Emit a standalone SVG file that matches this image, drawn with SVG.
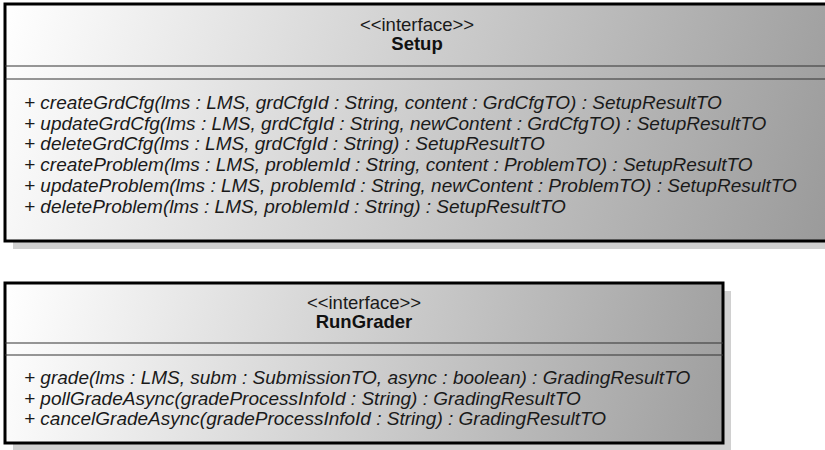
<svg xmlns="http://www.w3.org/2000/svg" width="825" height="450" viewBox="0 0 825 450">
  <style>
    .box { stroke: #000; stroke-width: 3; }
    .shadow { fill: #d0d0d0; }
    .sep { stroke: #333; stroke-width: 1.2; }
    .stereo { font-family: "Liberation Sans", Arial, sans-serif; font-size: 18.5px; fill: #1a1a1a; text-anchor: middle; }
    .name { font-family: "Liberation Sans", Arial, sans-serif; font-size: 18.5px; font-weight: bold; fill: #111; text-anchor: middle; }
    .op { font-family: "Liberation Sans", Arial, sans-serif; font-size: 19px; font-style: italic; fill: #1a1a1a; }
  </style>
  <defs>
    <linearGradient id="fillSetup" gradientUnits="userSpaceOnUse" x1="5" y1="4" x2="830" y2="241">
      <stop offset="0" stop-color="#ffffff"/>
      <stop offset="1" stop-color="#9a9a9a"/>
    </linearGradient>
    <linearGradient id="fillRunGrader" gradientUnits="userSpaceOnUse" x1="5" y1="283" x2="723" y2="443">
      <stop offset="0" stop-color="#ffffff"/>
      <stop offset="1" stop-color="#9e9e9e"/>
    </linearGradient>
  </defs>
  <rect width="825" height="450" fill="#ffffff"/>

  <g id="Setup">
    <rect class="shadow" x="13" y="12" width="830" height="237"/>
    <rect class="box" x="5" y="4" width="830" height="237" fill="url(#fillSetup)"/>
    <line class="sep" x1="5" y1="66" x2="825" y2="66"/>
    <line class="sep" x1="5" y1="79" x2="825" y2="79"/>
    <text class="stereo" x="417" y="31">&lt;&lt;interface&gt;&gt;</text>
    <text class="name" x="417" y="50">Setup</text>
    <text class="op" x="24" y="109">+ createGrdCfg(lms : LMS, grdCfgId : String, content : GrdCfgTO) : SetupResultTO</text>
    <text class="op" x="24" y="129.7">+ updateGrdCfg(lms : LMS, grdCfgId : String, newContent : GrdCfgTO) : SetupResultTO</text>
    <text class="op" x="24" y="150.4">+ deleteGrdCfg(lms : LMS, grdCfgId : String) : SetupResultTO</text>
    <text class="op" x="24" y="171.1">+ createProblem(lms : LMS, problemId : String, content : ProblemTO) : SetupResultTO</text>
    <text class="op" x="24" y="191.8">+ updateProblem(lms : LMS, problemId : String, newContent : ProblemTO) : SetupResultTO</text>
    <text class="op" x="24" y="212.5">+ deleteProblem(lms : LMS, problemId : String) : SetupResultTO</text>
  </g>

  <g id="RunGrader">
    <rect class="shadow" x="13" y="291" width="718" height="160"/>
    <rect class="box" x="5" y="283" width="718" height="160" fill="url(#fillRunGrader)"/>
    <line class="sep" x1="5" y1="343" x2="723" y2="343"/>
    <line class="sep" x1="5" y1="355" x2="723" y2="355"/>
    <text class="stereo" x="364" y="309">&lt;&lt;interface&gt;&gt;</text>
    <text class="name" x="364" y="328">RunGrader</text>
    <text class="op" x="24" y="384">+ grade(lms : LMS, subm : SubmissionTO, async : boolean) : GradingResultTO</text>
    <text class="op" x="24" y="404.5">+ pollGradeAsync(gradeProcessInfoId : String) : GradingResultTO</text>
    <text class="op" x="24" y="425">+ cancelGradeAsync(gradeProcessInfoId : String) : GradingResultTO</text>
  </g>

  <g id="connectors"/>
</svg>
